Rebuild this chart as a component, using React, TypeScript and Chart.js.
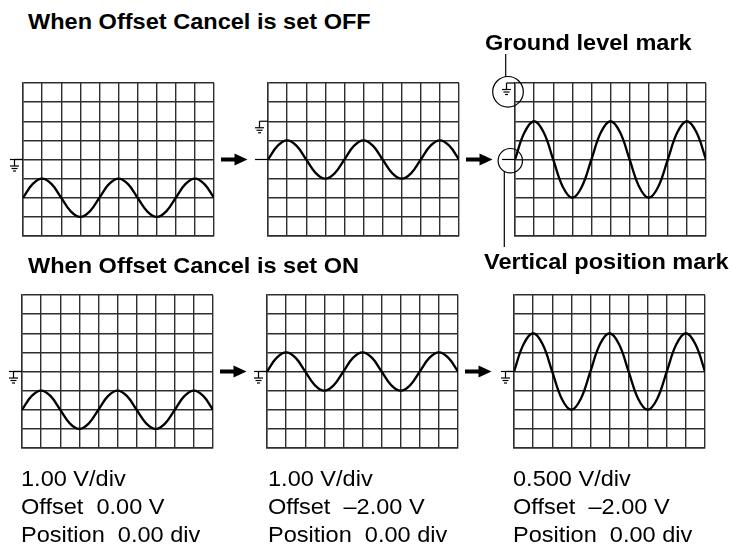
import React, { useEffect, useRef } from "react";
import { Chart, registerables } from "chart.js";

Chart.register(...registerables);

// ---- data ----
// horizontal position of each sample, in divisions (half-division samples)
const TIME_DIV = [0, 0.5, 1, 1.5, 2, 2.5, 3, 3.5, 4, 4.5, 5, 5.5, 6, 6.5, 7, 7.5, 8, 8.5, 9, 9.5, 10];
// input signal in volts (1 V amplitude sine riding on -2 V)
const SIGNAL_V = [-2, -1.29, -1, -1.29, -2, -2.71, -3, -2.71, -2, -1.29, -1, -1.29, -2, -2.71, -3, -2.71, -2, -1.29, -1, -1.29, -2];
// settings for the three steps (columns)
const VOLTS_PER_DIV = [1, 1, 0.5];
const OFFSET_V = [0, -2, -2];
const POSITION_DIV = [0, 0, 0];
// rows: offset cancel off / on
const OFFSET_CANCEL = [false, true];
const ROW_TITLES = ["When Offset Cancel is set OFF", "When Offset Cancel is set ON"];
const CALLOUT_LABELS = ["Ground level mark", "Vertical position mark"];
const VDIV_LABELS = ["1.00 V/div", "1.00 V/div", "0.500 V/div"];
const OFFSET_LABELS = ["Offset  0.00 V", "Offset  \u20132.00 V", "Offset  \u20132.00 V"];
const POSITION_LABELS = ["Position  0.00 div", "Position  0.00 div", "Position  0.00 div"];

// ---- layout ----
const GRID_LEFT = [
  [23, 268, 515],
  [22, 267, 514],
];
const GRID_TOP = [83, 295];
const GRID_W = 191;
const GRID_H = 153;
const PAD_L = 40;
const PAD_R = 40;
const PAD_T = 45;
const PAD_B = 20;
const GRID_COLOR = "#2e2e2e";
const FONT = '"Liberation Sans", Arial, Helvetica, sans-serif';

const marksPlugin = {
  id: "scopeMarks",
  afterDraw(chart: any, _args: any, opts: any) {
    const { ctx, chartArea: a, scales } = chart;
    const ys = scales.y;
    const gY = ys.getPixelForValue(opts.groundV);
    const pY = ys.getPixelForValue(opts.positionV);
    const line = (x0: number, y0: number, x1: number, y1: number) => {
      ctx.beginPath();
      ctx.moveTo(x0, y0);
      ctx.lineTo(x1, y1);
      ctx.stroke();
    };
    ctx.save();
    ctx.strokeStyle = "#000";
    ctx.fillStyle = "#000";
    ctx.lineWidth = 1.2;
    // vertical position mark
    line(a.left - 13, pY, a.left, pY);
    // ground level mark
    const sx = a.left - 8.5;
    line(sx, gY, a.left, gY);
    line(sx, gY, sx, gY + 6.5);
    line(sx - 4.5, gY + 6.5, sx + 4.5, gY + 6.5);
    line(sx - 3, gY + 9, sx + 3, gY + 9);
    line(sx - 1.5, gY + 11.5, sx + 1.5, gY + 11.5);
    if (opts.arrow) {
      const ay = (a.top + a.bottom) / 2;
      const x0 = a.right + 7;
      const x1 = a.right + 33.5;
      ctx.fillRect(x0, ay - 2, x1 - x0 - 11, 4);
      ctx.beginPath();
      ctx.moveTo(x1 - 13, ay - 6);
      ctx.lineTo(x1, ay);
      ctx.lineTo(x1 - 13, ay + 6);
      ctx.closePath();
      ctx.fill();
    }
    if (opts.callouts) {
      ctx.lineWidth = 1.2;
      const gcx = a.left - 7;
      const gcy = gY + 8.8;
      const gr = 15.3;
      ctx.beginPath();
      ctx.arc(gcx, gcy, gr, 0, Math.PI * 2);
      ctx.stroke();
      const lx = a.left - 9.3;
      line(lx, a.top - 29, lx, gcy - Math.sqrt(gr * gr - (lx - gcx) * (lx - gcx)));
      const pcx = a.left - 4.7;
      const pcy = pY + 1.2;
      const pr = 12.2;
      ctx.beginPath();
      ctx.arc(pcx, pcy, pr, 0, Math.PI * 2);
      ctx.stroke();
      const px = a.left - 10.7;
      line(px, pcy + Math.sqrt(pr * pr - (px - pcx) * (px - pcx)), px, a.bottom + 11);
    }
    ctx.restore();
  },
};

function Panel({ row, col }: { row: number; col: number }) {
  const ref = useRef<HTMLCanvasElement>(null);
  const left = GRID_LEFT[row][col];
  const top = GRID_TOP[row];
  const cw = GRID_W + PAD_L + PAD_R;
  const ch = GRID_H + PAD_T + PAD_B;
  useEffect(() => {
    const cancel = OFFSET_CANCEL[row];
    const vdiv = VOLTS_PER_DIV[col];
    const off = OFFSET_V[col];
    const pos = POSITION_DIV[col];
    const centerV = (cancel ? 0 : off) - pos * vdiv;
    const pts = TIME_DIV.map((t, i) => ({ x: t, y: cancel ? SIGNAL_V[i] - off : SIGNAL_V[i] }));
    const grid = { color: GRID_COLOR, lineWidth: 1.4, drawTicks: false };
    const border = { display: true, color: GRID_COLOR, width: 1.4 };
    const chart = new Chart(ref.current as HTMLCanvasElement, {
      type: "line",
      data: {
        datasets: [
          {
            data: pts,
            borderColor: "#000",
            borderWidth: 2.3,
            pointRadius: 0,
            tension: 0.4,
            fill: false,
          },
        ],
      },
      options: {
        animation: false,
        responsive: false,
        events: [],
        layout: { padding: { left: PAD_L, right: PAD_R, top: PAD_T, bottom: PAD_B } },
        plugins: {
          legend: { display: false },
          tooltip: { enabled: false },
          scopeMarks: {
            groundV: 0,
            positionV: centerV,
            arrow: col < 2,
            callouts: !cancel && col === 2,
          },
        } as any,
        scales: {
          x: {
            type: "linear",
            min: 0,
            max: 10,
            ticks: { display: false, stepSize: 1 },
            grid,
            border,
          },
          y: {
            type: "linear",
            min: centerV - 4 * vdiv,
            max: centerV + 4 * vdiv,
            ticks: { display: false, stepSize: vdiv },
            grid,
            border,
          },
        },
      },
      plugins: [marksPlugin as any],
    });
    return () => chart.destroy();
  }, [row, col]);
  return (
    <canvas
      ref={ref}
      width={cw}
      height={ch}
      style={{ position: "absolute", left: left - PAD_L, top: top - PAD_T, width: cw, height: ch }}
    />
  );
}

function Label({ x, y, text, bold }: { x: number; y: number; text: string; bold?: boolean }) {
  return (
    <div
      style={{
        position: "absolute",
        left: x,
        top: y,
        fontSize: 22,
        lineHeight: "22px",
        fontWeight: bold ? 700 : 400,
        whiteSpace: "pre",
        transform: "scaleX(1.07)",
        transformOrigin: "0 0",
      }}
    >
      {text}
    </div>
  );
}

export default function App() {
  const bottomLeft = [21, 268, 513];
  return (
    <div
      style={{
        position: "fixed",
        left: 0,
        top: 0,
        width: 732,
        height: 548,
        background: "#fff",
        overflow: "hidden",
        fontFamily: FONT,
        color: "#000",
      }}
    >
      {[0, 1].map((r) => [0, 1, 2].map((c) => <Panel key={r + "-" + c} row={r} col={c} />))}
      <Label x={28} y={11.4} text={ROW_TITLES[0]} bold />
      <Label x={28} y={255} text={ROW_TITLES[1]} bold />
      <Label x={485} y={32.4} text={CALLOUT_LABELS[0]} bold />
      <Label x={484} y={251.4} text={CALLOUT_LABELS[1]} bold />
      {[0, 1, 2].map((c) => (
        <React.Fragment key={"lab" + c}>
          <Label x={bottomLeft[c]} y={468} text={VDIV_LABELS[c]} />
          <Label x={bottomLeft[c]} y={496.4} text={OFFSET_LABELS[c]} />
          <Label x={bottomLeft[c]} y={524.4} text={POSITION_LABELS[c]} />
        </React.Fragment>
      ))}
    </div>
  );
}
